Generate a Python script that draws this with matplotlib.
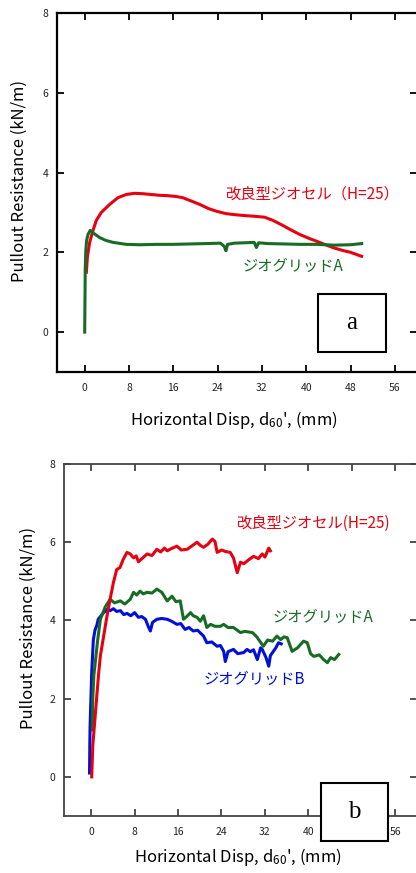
import matplotlib

matplotlib.use("Agg")
import matplotlib.pyplot as plt
from matplotlib.patches import Rectangle

plt.rcParams["font.family"] = ["Noto Sans CJK JP", "DejaVu Sans"]
plt.rcParams["mathtext.default"] = "regular"

RED = "#e60012"
GREEN = "#176b24"
BLUE = "#0010d8"

# panel a: pullout curves
a_cell_x = [0.3, 0.5, 0.9, 1.5, 2.1, 3.0, 4.5, 6.0, 7.5, 9.0, 10.5, 12, 13.5, 15, 16.5,
            17.7, 19, 20.8, 22.3, 23.8, 25.5, 27.4, 29, 31, 32.5, 34, 35.7, 37, 38.8,
            40.5, 42.4, 44.8, 46.5, 48, 50]
a_cell_y = [1.5, 1.9, 2.25, 2.55, 2.8, 3.0, 3.2, 3.37, 3.45, 3.48, 3.47, 3.45, 3.43, 3.42,
            3.4, 3.37, 3.3, 3.2, 3.1, 3.03, 2.97, 2.94, 2.92, 2.9, 2.88, 2.8, 2.68, 2.58,
            2.45, 2.35, 2.25, 2.12, 2.05, 2.0, 1.9]
a_grid_x = [0, 0.05, 0.1, 0.2, 0.35, 0.6, 1.0, 1.6, 2.7, 3.8, 5.1, 7.5, 10, 13, 16, 19,
            22, 24.5, 25.2, 25.5, 25.8, 27, 29, 30.6, 31.0, 31.4, 33, 36, 39, 42, 45, 48, 50]
a_grid_y = [0, 0.8, 1.6, 2.05, 2.3, 2.45, 2.55, 2.48, 2.37, 2.3, 2.25, 2.2, 2.19, 2.2, 2.2,
            2.21, 2.22, 2.23, 2.15, 2.04, 2.2, 2.23, 2.24, 2.25, 2.12, 2.24, 2.22, 2.21,
            2.2, 2.2, 2.18, 2.19, 2.22]

# panel b
b_cell_x = [0.1, 0.3, 0.74, 1.35, 1.7, 2.3, 2.9, 3.5, 4.1, 4.7, 5.3, 5.9, 6.6, 7.2, 7.8,
            8.3, 8.7, 9.5, 10.3, 11.2, 12.1, 12.8, 13.5, 14, 14.8, 15.8, 16.6, 17.7, 18.5,
            19.5, 20.1, 20.7, 21.5, 22.3, 22.8, 23.2, 24.0, 24.8, 25.6, 26.2, 26.9, 27.5,
            28.1, 29.0, 29.9, 30.8, 31.5, 32.0, 32.7, 33.0]
b_cell_y = [0.0, 0.8, 1.55, 2.6, 3.1, 3.6, 4.1, 4.55, 4.97, 5.3, 5.35, 5.56, 5.74, 5.7, 5.6,
            5.65, 5.5, 5.6, 5.7, 5.66, 5.82, 5.75, 5.85, 5.78, 5.84, 5.9, 5.8, 5.82, 5.9,
            6.0, 5.92, 5.87, 5.95, 6.08, 6.02, 5.74, 5.8, 5.76, 5.74, 5.6, 5.22, 5.49,
            5.45, 5.55, 5.64, 5.58, 5.7, 5.62, 5.85, 5.78]
b_grida_x = [0.2, 0.3, 0.5, 0.74, 1.2, 1.7, 2.6, 3.5, 4.3, 5.35, 6.2, 7.2, 7.8, 8.4, 9.0,
             9.6, 10.3, 11.2, 12.1, 13.0, 14, 14.9, 15.6, 16.4, 17.0, 17.6, 18.3, 18.8,
             19.5, 20.1, 20.7, 21.3, 22, 22.8, 23.8, 24.4, 25.2, 26.2, 27.5, 28.3, 29.7,
             30.5, 31.7, 32.5, 33.4, 34.2, 34.9, 35.5, 36.1, 37.0, 38.0, 39.1, 39.8, 40.4,
             41.0, 42.0, 42.8, 43.5, 44.1, 44.8, 45.6]
b_grida_y = [1.2, 2.0, 2.6, 2.9, 3.5, 4.03, 4.35, 4.54, 4.45, 4.5, 4.42, 4.54, 4.72, 4.65,
             4.75, 4.68, 4.72, 4.7, 4.8, 4.72, 4.5, 4.62, 4.48, 4.5, 4.03, 4.1, 4.2, 4.12,
             4.08, 3.98, 4.12, 3.82, 3.9, 3.85, 3.85, 3.9, 3.82, 3.82, 3.69, 3.72, 3.69,
             3.58, 3.34, 3.5, 3.47, 3.6, 3.51, 3.58, 3.56, 3.21, 3.3, 3.47, 3.43, 3.15,
             3.08, 3.12, 3.0, 2.92, 3.05, 3.0, 3.13]
b_gridb_x = [-0.3, -0.25, -0.2, 0.1, 0.4, 0.7, 1.05, 1.3, 1.7, 2.3, 2.9, 3.5, 4.1, 4.7, 5.4,
             6.0, 6.6, 7.3, 8.0, 8.7, 9.3, 10.0, 10.5, 10.9, 11.3, 12.1, 13.0, 14.0, 14.8,
             15.8, 16.5, 17.3, 18.0, 18.8, 19.6, 20.7, 21.3, 22.2, 23.2, 23.8, 24.4, 24.7,
             25.2, 26.2, 27.0, 28.1, 28.7, 29.3, 29.9, 30.6, 31.2, 31.5, 32.2, 32.7, 33.0,
             33.4, 34.0, 34.5, 35.0]
b_gridb_y = [0.1, 0.8, 1.28, 2.67, 3.5, 3.75, 3.88, 4.03, 4.1, 4.2, 4.28, 4.25, 4.3, 4.23,
             4.25, 4.15, 4.18, 4.12, 4.2, 4.08, 4.1, 4.03, 3.85, 3.73, 3.95, 4.03, 4.05,
             4.03, 3.98, 3.9, 3.92, 3.77, 3.82, 3.73, 3.75, 3.6, 3.43, 3.45, 3.34, 3.36,
             3.21, 2.95, 3.2, 3.26, 3.15, 3.18, 3.26, 3.2, 3.25, 3.0, 3.3, 3.26, 3.05, 2.83,
             3.1, 3.18, 3.3, 3.43, 3.4]

X_TICKS = [0, 8, 16, 24, 32, 40, 48, 56]
Y_TICKS = [0, 2, 4, 6, 8]

W, H = 416, 873
fig = plt.figure(figsize=(W / 100, H / 100), dpi=100)


def px_axes(left, top, right, bottom):
    return fig.add_axes([left / W, 1 - bottom / H, (right - left) / W, (bottom - top) / H])


def style(ax, spine_color, spine_lw):
    ax.set_xlim(-5, 60)
    ax.set_ylim(-1, 8)
    ax.set_xticks(X_TICKS)
    ax.set_yticks(Y_TICKS)
    ax.tick_params(direction="in", length=5, width=1.3, labelsize=7.5, pad=8,
                   top=True, right=True, colors=spine_color, labelcolor="#222222")
    ax.tick_params(axis="y", pad=6)
    for s in ax.spines.values():
        s.set_color(spine_color)
        s.set_linewidth(spine_lw)
    ax.set_ylabel("Pullout Resistance (kN/m)", fontsize=12)
    ax.set_xlabel("Horizontal Disp, d$_{60}$', (mm)", fontsize=12)


def label_box(ax, x0, y0, w, h, letter):
    ax.add_patch(Rectangle((x0, y0), w, h, transform=ax.transAxes, facecolor="white",
                           edgecolor="black", linewidth=1.5, clip_on=False, zorder=5))
    ax.text(x0 + w / 2, y0 + h / 2, letter, transform=ax.transAxes, ha="center",
            va="center", fontsize=18, family="Liberation Serif", zorder=6)


# ---- panel a ----
ax1 = px_axes(57, 13, 417, 372)
style(ax1, "black", 1.6)
ax1.plot(a_cell_x, a_cell_y, color=RED, lw=2.2)
ax1.plot(a_grid_x, a_grid_y, color=GREEN, lw=2.2)
ax1.text(25.6, 3.45, "改良型ジオセル（H=25）", color=RED, fontsize=11, va="center")
ax1.text(28.5, 1.65, "ジオグリッドA", color=GREEN, fontsize=11, va="center")
ax1.yaxis.set_label_coords(-0.082, 0.532)
ax1.xaxis.set_label_coords(0.49, -0.104)
label_box(ax1, 0.725, 0.056, 0.189, 0.162, "a")

# ---- panel b ----
ax2 = px_axes(64, 464, 417, 816)
style(ax2, "#444444", 1.3)
ax2.plot(b_gridb_x, b_gridb_y, color=BLUE, lw=2.2)
ax2.plot(b_grida_x, b_grida_y, color=GREEN, lw=2.2)
ax2.plot(b_cell_x, b_cell_y, color=RED, lw=2.2)
ax2.text(26.9, 6.49, "改良型ジオセル(H=25)", color=RED, fontsize=11, va="center")
ax2.text(33.4, 4.08, "ジオグリッドA", color=GREEN, fontsize=11, va="center")
ax2.text(20.7, 2.49, "ジオグリッドB", color=BLUE, fontsize=11, va="center")
ax2.yaxis.set_label_coords(-0.078, 0.535)
ax2.xaxis.set_label_coords(0.493, -0.086)
label_box(ax2, 0.728, -0.071, 0.19, 0.165, "b")

fig.savefig("out.png", dpi=100)
